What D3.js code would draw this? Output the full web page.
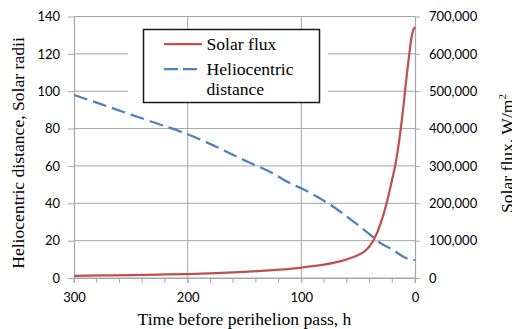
<!DOCTYPE html>
<html><head><meta charset="utf-8">
<script src="https://cdn.jsdelivr.net/npm/d3@7"></script>
<style>body{margin:0;background:#fff}svg{display:block}</style>
</head><body><svg id="c" width="512" height="329"></svg>
<script>
// ---- data ----
const fluxHours  = [300, 275, 250, 225, 200, 175, 150, 125, 110, 100, 90, 80, 70, 60, 50, 45, 40, 35, 30, 25, 22, 20, 17.5, 15, 12.5, 10, 8.8, 7, 5, 3, 1.5, 0];
const fluxValues = [6000, 7000, 8000, 9300, 10700, 13000, 16300, 21000, 24500, 27800, 31500, 36000, 42000, 50000, 61500, 70000, 85000, 110000, 148000, 200000, 238000, 265000, 300000, 345000, 400000, 465000, 500000, 550000, 600000, 645000, 664000, 672000];
const distHours  = [300, 275, 250, 225, 200, 175, 150, 125, 110, 100, 75, 50, 37, 30, 20, 10, 5, 0];
const distValues = [98, 92.8, 87.5, 82.3, 77, 70.3, 63, 56, 50.8, 48, 39.4, 28.3, 22, 18.5, 15.3, 11.3, 10, 9.6];
const leftTicks  = [0, 20, 40, 60, 80, 100, 120, 140];
const rightTicks = [0, 100000, 200000, 300000, 400000, 500000, 600000, 700000];
const xTicks     = [300, 200, 100, 0];
const xMinor     = [300, 280, 260, 240, 220, 200, 180, 160, 140, 120, 100, 80, 60, 40, 20, 0];
const legendItems = [
  {lines: ["Solar flux"], color: "#c0504d", dash: null},
  {lines: ["Heliocentric", "distance"], color: "#4f81bd", dash: "14,5"}
];
const xTitle = "Time before perihelion pass, h";
const yLeftTitle = "Heliocentric distance, Solar radii";
const yRightTitle = "Solar flux, W/m";

// ---- layout ----
const L = 74, R = 415, T = 16.5, B = 278;
const svg = d3.select("#c");
const serif = "'Liberation Serif','Times New Roman',serif";
const sans = "Lato, 'Open Sans', sans-serif";
const grid = "#a6a6a6";

const x = d3.scaleLinear().domain([300, 0]).range([L, R]);
const yL = d3.scaleLinear().domain([0, 140]).range([B, T]);
const yR = d3.scaleLinear().domain([0, 700000]).range([B, T]);

// gridlines
svg.append("g").selectAll("line").data(leftTicks).join("line")
  .attr("x1", L).attr("x2", R).attr("y1", d => yL(d)).attr("y2", d => yL(d))
  .attr("stroke", grid).attr("stroke-width", 1);
svg.append("g").selectAll("line").data([200, 100]).join("line")
  .attr("x1", d => x(d)).attr("x2", d => x(d)).attr("y1", T).attr("y2", B)
  .attr("stroke", grid).attr("stroke-width", 1);

// legend background (white, covers gridlines)
svg.append("rect").attr("x", 128).attr("y", 29).attr("width", 200).attr("height", 74).attr("fill", "#fff");

// axes
function styleAxis(g) {
  g.selectAll(".domain").attr("stroke", grid).attr("stroke-width", 1.2);
  g.selectAll(".tick line").attr("stroke", grid).attr("stroke-width", 1);
  g.selectAll(".tick text").attr("font-family", sans).attr("font-size", 13).attr("fill", "#000");
}
svg.append("g").attr("transform", `translate(${L},0)`)
  .call(d3.axisLeft(yL).tickValues(leftTicks).tickSize(6).tickSizeOuter(0).tickPadding(8).tickFormat(d3.format("d")))
  .call(styleAxis);
svg.append("g").attr("transform", `translate(${R},0)`)
  .call(d3.axisRight(yR).tickValues(rightTicks).tickSize(5).tickSizeOuter(0).tickPadding(9).tickFormat(d3.format(",")))
  .call(styleAxis);
const xg = svg.append("g").attr("transform", `translate(0,${B})`)
  .call(d3.axisBottom(x).tickValues(xTicks).tickSize(5).tickSizeOuter(0).tickPadding(10).tickFormat(d3.format("d")))
  .call(styleAxis);
xg.append("g").selectAll("line").data(xMinor).join("line")
  .attr("x1", d => x(d)).attr("x2", d => x(d)).attr("y1", 0).attr("y2", 5)
  .attr("stroke", grid).attr("stroke-width", 1);

// series
const flux = fluxHours.map((h, i) => [h, fluxValues[i]]);
const dist = distHours.map((h, i) => [h, distValues[i]]);
svg.append("path").datum(dist)
  .attr("d", d3.line().x(d => x(d[0])).y(d => yL(d[1])).curve(d3.curveMonotoneX))
  .attr("fill", "none").attr("stroke", "#4f81bd").attr("stroke-width", 2.25).attr("stroke-dasharray", "14,6");
svg.append("path").datum(flux)
  .attr("d", d3.line().x(d => x(d[0])).y(d => yR(d[1])).curve(d3.curveMonotoneX))
  .attr("fill", "none").attr("stroke", "#c0504d").attr("stroke-width", 2.25);

// legend
svg.append("rect").attr("x", 143.5).attr("y", 29.5).attr("width", 176).attr("height", 73)
  .attr("fill", "#fff").attr("stroke", "#1a1a1a").attr("stroke-width", 1.5);
const legY = [44, 69];
legendItems.forEach((it, i) => {
  svg.append("line").attr("x1", 164).attr("x2", 202).attr("y1", legY[i]).attr("y2", legY[i])
    .attr("stroke", it.color).attr("stroke-width", 2.25).attr("stroke-dasharray", it.dash);
  it.lines.forEach((t, j) => {
    svg.append("text").attr("x", 206.5).attr("y", legY[i] + 5.5 + j * 20)
      .attr("font-family", serif).attr("font-size", 17.6).attr("fill", "#000").text(t);
  });
});

// titles
svg.append("text").attr("x", 244.5).attr("y", 325).attr("text-anchor", "middle")
  .attr("font-family", serif).attr("font-size", 17.6).attr("fill", "#000").text(xTitle);
svg.append("text").attr("transform", "translate(24,153) rotate(-90)").attr("text-anchor", "middle")
  .attr("font-family", serif).attr("font-size", 17.6).attr("fill", "#000").text(yLeftTitle);
const rt = svg.append("text").attr("transform", "translate(513,213) rotate(-90)").attr("text-anchor", "start")
  .attr("font-family", serif).attr("font-size", 17.6).attr("fill", "#000");
rt.append("tspan").text(yRightTitle);
rt.append("tspan").attr("font-size", 11).attr("dy", -7).text("2");
</script></body></html>
